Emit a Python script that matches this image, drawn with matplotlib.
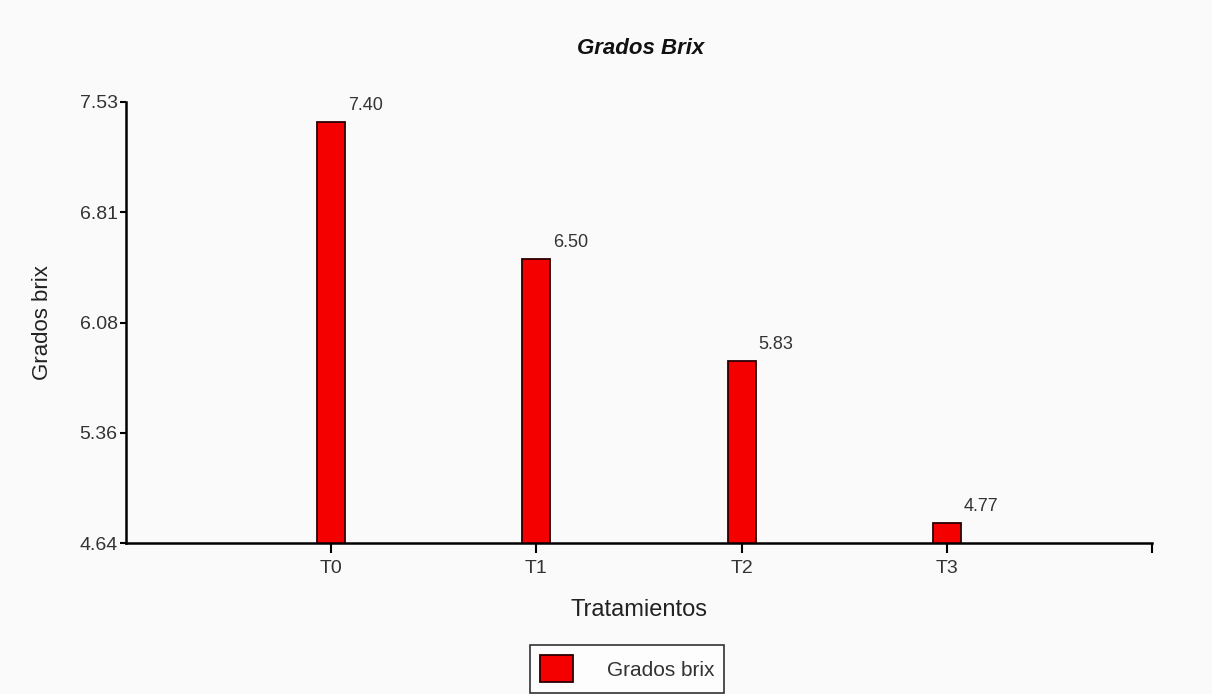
import matplotlib
matplotlib.use("Agg")
import matplotlib.pyplot as plt
import numpy as np

categories = ["T0", "T1", "T2", "T3"]
values = [7.40, 6.50, 5.83, 4.77]
value_labels = ["7.40", "6.50", "5.83", "4.77"]
ytick_labels = ["4.64", "5.36", "6.08", "6.81", "7.53"]
ymin, ymax = 4.64, 7.53

plt.rcParams['font.family'] = ['Liberation Sans', 'DejaVu Sans']

fig = plt.figure(figsize=(12.12, 6.94), dpi=100, facecolor='#fafafa')
ax = fig.add_axes([126/1212, 1-543/694, (1152-126)/1212, (543-102)/694])
ax.set_facecolor('none')

pos = np.arange(1, len(categories) + 1)
heights = [v - ymin for v in values]
bars = ax.bar(pos, heights, bottom=ymin, width=0.137, color='#f40000',
              edgecolor='#2a0000', linewidth=1.3, label='Grados brix', zorder=3)
for b, lab in zip(bars, value_labels):
    ax.annotate(lab, (b.get_x() + b.get_width(), b.get_y() + b.get_height()),
                xytext=(2, 6), textcoords='offset points', ha='left', va='bottom',
                fontsize=13, color='#333333')

ax.set_xlim(0, len(categories) + 1)
ax.set_ylim(ymin, ymax)
ax.set_xticks(list(pos) + [len(categories) + 1])
ax.set_xticklabels(categories + [""], fontsize=14, color='#333333')
ax.set_yticks(np.linspace(ymin, ymax, len(ytick_labels)))
ax.set_yticklabels(ytick_labels, fontsize=14, color='#333333')
ax.tick_params(axis='x', direction='out', length=7, width=1.5, pad=5)
ax.tick_params(axis='y', direction='out', length=4, width=1.5, pad=2)

for s in ['top', 'right']:
    ax.spines[s].set_visible(False)
for s in ['left', 'bottom']:
    ax.spines[s].set_linewidth(1.8)
    ax.spines[s].set_color('black')

ax.set_xlabel("Tratamientos", fontsize=17, color='#222222', labelpad=16)
ax.set_ylabel("Grados brix", fontsize=16, color='#222222', labelpad=19)
fig.text(641/1212, 1-48/694, "Grados Brix", ha='center', va='center', fontsize=16,
         fontweight='bold', fontstyle='italic', color='#111111')

leg = fig.legend(handles=[bars], labels=['Grados brix'], loc='upper center',
                 bbox_to_anchor=(627/1212, 1-645/694), fancybox=False,
                 frameon=True, edgecolor='black', fontsize=15,
                 handlelength=1.6, handleheight=1.6, borderpad=0.5,
                 handletextpad=1.6, borderaxespad=0)
leg.get_frame().set_linewidth(1.2)
leg.get_frame().set_facecolor('white')
for t in leg.get_texts():
    t.set_color('#333333')

fig.savefig("out.png", dpi=100, facecolor=fig.get_facecolor())
